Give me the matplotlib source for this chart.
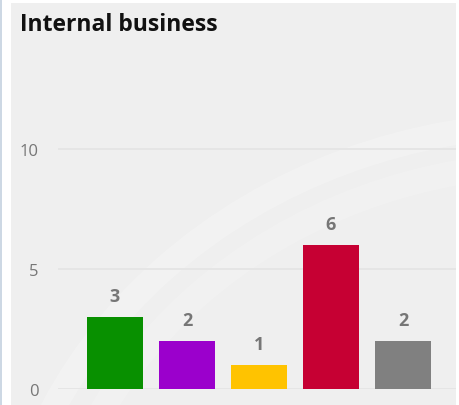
import matplotlib.pyplot as plt
from matplotlib.patches import Rectangle, Circle
from matplotlib.transforms import ScaledTranslation

# dados do grafico
categories = ['A', 'B', 'C', 'D', 'E']
values = [3, 2, 1, 6, 2]
bar_colors = ['#089000', '#9b00cc', '#ffc300', '#c60033', '#808080']
y_ticks = [0, 5, 10]

W, H = 459, 406
fig = plt.figure(figsize=(W / 100, H / 100), dpi=100)
fig.patch.set_facecolor('white')

# moldura: faixa azulada a esquerda e painel cinza
fig.add_artist(Rectangle((0, 0), 2 / W, 1, transform=fig.transFigure,
                         facecolor='#cdd8e4', edgecolor='none', zorder=-2))
fig.add_artist(Rectangle((11 / W, 0), (456 - 11) / W, (H - 4) / H,
                         transform=fig.transFigure, facecolor='#efefef',
                         edgecolor='none', zorder=-2))
# arcos bem claros do fundo
for r, a in [(560, 0.22), (515, 0.15)]:
    fig.add_artist(Circle((560 / W, 1 - 620 / H), r / W, transform=fig.transFigure,
                          facecolor='none', edgecolor='white', linewidth=18,
                          alpha=a, zorder=-1, clip_on=False))

fig.text(20 / W, 1 - 25 / H, 'Internal business', fontsize=16.5, fontweight='bold',
         family=['Open Sans', 'DejaVu Sans'], color='#111111', va='center', ha='left')

# eixo: 0 em y=388px, 24px por unidade, barras a cada 72px
ax_left, ax_right = 58, 456
ax_bottom, ax_top = 390, 100
ax = fig.add_axes([ax_left / W, 1 - ax_bottom / H, (ax_right - ax_left) / W,
                   (ax_bottom - ax_top) / H])
ax.set_facecolor('none')
ymax = (ax_bottom - ax_top) / 24
ax.set_ylim(0, ymax)
x0 = -(115 - ax_left) / 72
ax.set_xlim(x0, x0 + (ax_right - ax_left) / 72)

x = list(range(len(categories)))
ax.bar(x, values, width=56 / 72, color=bar_colors, zorder=3)
offset = ax.transData + ScaledTranslation(0, 21 / 100, fig.dpi_scale_trans)
for xi, v in zip(x, values):
    ax.text(xi, v, str(v), ha='center', va='center', fontsize=13, fontweight='bold',
            color='#767676', family=['Open Sans', 'DejaVu Sans'], transform=offset)

ax.set_yticks(y_ticks)
ax.set_yticklabels([str(t) for t in y_ticks], color='#767676', fontsize=12,
                   family=['Open Sans', 'DejaVu Sans'])
ax.tick_params(axis='y', length=0, pad=14)
ax.set_xticks([])
ax.grid(axis='y', color='#e3e3e3', linewidth=1.2, zorder=0)
for s in ax.spines.values():
    s.set_visible(False)

plt.savefig('out.png', dpi=100, facecolor=fig.get_facecolor())
